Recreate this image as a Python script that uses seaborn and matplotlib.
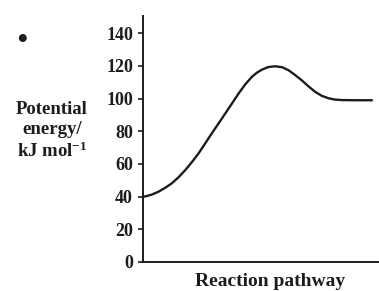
import seaborn as sns
import matplotlib.pyplot as plt
import pandas as pd

# values
pathway = [0, 0.7, 3.5, 6.4, 9.2, 12.1, 15.0, 17.9, 20.7, 23.6, 26.4, 29.3, 32.2, 35.1,
           38.0, 40.8, 43.6, 46.5, 48.6, 50.8, 53.5, 56.5, 59.5, 62.2, 65.0, 67.9, 70.8,
           73.7, 76.5, 79.4, 82.2, 85.1, 91.0, 98.0]
energy = [40, 40.1, 41.2, 43.0, 45.3, 48.1, 51.8, 56.2, 61.0, 66.4, 72.4, 78.7, 84.8, 90.9,
          97.1, 103.1, 108.6, 113.3, 115.8, 117.7, 119.3, 119.8, 119.2, 117.4, 114.5, 111.2,
          107.5, 104.1, 101.7, 100.2, 99.4, 99.1, 99.0, 99.0]
yticks = [0, 20, 40, 60, 80, 100, 120, 140]

df = pd.DataFrame({'pathway': pathway, 'energy': energy})

sns.set_style('ticks')
plt.rcParams['font.family'] = ['Liberation Serif', 'DejaVu Serif']
plt.rcParams['mathtext.fontset'] = 'custom'
plt.rcParams['mathtext.rm'] = 'Liberation Serif:bold'
plt.rcParams['mathtext.default'] = 'rm'

ink = '#1c1c1c'
fig = plt.figure(figsize=(3.79, 2.91), dpi=100)
ax = fig.add_axes([0.3786, 0.0997, 0.618, 0.845])

sns.lineplot(data=df, x='pathway', y='energy', color=ink, linewidth=1.7, ax=ax)

ax.set_xlim(0, 100.5)
ax.set_ylim(0, 150.5)
ax.set_yticks(yticks)
ax.set_xticks([])
ax.tick_params(axis='y', length=3.5, width=1.2, pad=4, labelsize=13, colors=ink)
for lab in ax.get_yticklabels():
    lab.set_fontweight('bold')
sns.despine(ax=ax)
for s in ['left', 'bottom']:
    ax.spines[s].set_linewidth(1.4)
    ax.spines[s].set_color(ink)

# x label sits a little right of the axis centre in the original
ax.set_xlabel('Reaction pathway', fontsize=14, fontweight='bold', color=ink)
ax.xaxis.set_label_coords(0.54, -0.045)
ax.xaxis.label.set_va('top')
ax.set_ylabel('')

fig.text(52 / 379, 1 - 131 / 291, 'Potential\nenergy/\nkJ mol$^{-1}$', ha='center', va='center',
         fontsize=13.5, fontweight='bold', linespacing=1.2, color=ink)
fig.text(22 / 379, 1 - 42 / 291, '•', ha='center', va='center', fontsize=24, color=ink)

fig.savefig('out.png', dpi=100)
